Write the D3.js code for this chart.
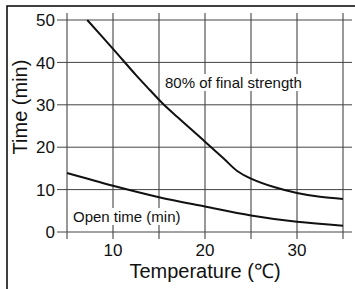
<!DOCTYPE html>
<html>
<head>
<meta charset="utf-8">
<script src="https://cdn.jsdelivr.net/npm/d3@7"></script>
<style>
  body { margin: 0; background: #fff; }
  text { font-family: "Liberation Sans", Arial, Helvetica, sans-serif; fill: #111; }
</style>
</head>
<body>
<div id="chart"></div>
<script>
// Data
const xTicks = [10, 20, 30];
const xGrid = [5, 10, 15, 20, 25, 30, 35];
const yTicks = [0, 10, 20, 30, 40, 50];
const strengthTemp = [7.2, 10, 12.5, 14, 15.4, 17, 20, 22, 23.5, 25, 27.5, 30, 32.5, 35];
const strengthTime = [50, 43.2, 37.0, 33.5, 30.3, 27.1, 21.3, 17.4, 14.4, 12.6, 10.6, 9.2, 8.3, 7.8];
const openTemp = [5, 10, 15, 20, 25, 30, 35];
const openTime = [13.9, 10.9, 8.2, 6.0, 3.9, 2.4, 1.5];

const width = 355, height = 289;

const svg = d3.select("#chart").append("svg")
    .attr("width", width)
    .attr("height", height);

const x = d3.scaleLinear().domain([5, 35]).range([67, 343]);
const y = d3.scaleLinear().domain([0, 50]).range([232, 20]);

// Outer frame (top and left only)
svg.append("path")
    .attr("d", `M7,${height} V6 H${width}`)
    .attr("fill", "none")
    .attr("stroke", "#000")
    .attr("stroke-width", 1.5);

// Grid lines
const grid = svg.append("g");
grid.selectAll("line.v").data(xGrid).join("line")
    .attr("class", "v")
    .attr("x1", d => x(d)).attr("x2", d => x(d))
    .attr("y1", 13).attr("y2", 239)
    .attr("stroke", "#333")
    .attr("stroke-width", 1);
grid.selectAll("line.h").data(yTicks).join("line")
    .attr("class", "h")
    .attr("x1", 57).attr("x2", 352)
    .attr("y1", d => y(d)).attr("y2", d => y(d))
    .attr("stroke", "#444")
    .attr("stroke-width", 1);

// Tick labels
svg.append("g").selectAll("text").data(yTicks).join("text")
    .attr("x", 55)
    .attr("y", d => y(d))
    .attr("dy", "0.36em")
    .attr("text-anchor", "end")
    .style("font-size", "17px")
    .text(d => d);

svg.append("g").selectAll("text").data(xTicks).join("text")
    .attr("x", d => x(d))
    .attr("y", 256)
    .attr("text-anchor", "middle")
    .style("font-size", "17px")
    .text(d => d);

// Axis titles
svg.append("text")
    .attr("x", 205).attr("y", 278)
    .attr("text-anchor", "middle")
    .style("font-size", "20px")
    .text("Temperature (\u2103)");

svg.append("text")
    .attr("transform", "translate(27,107) rotate(-90)")
    .attr("text-anchor", "middle")
    .style("font-size", "20px")
    .text("Time (min)");

// Curve labels with white boxes
function label(tx, ty, str) {
    const g = svg.append("g");
    const t = g.append("text")
        .attr("x", tx).attr("y", ty)
        .style("font-size", "15px")
        .text(str);
    const b = t.node().getBBox();
    g.insert("rect", "text")
        .attr("x", b.x - 2).attr("y", b.y)
        .attr("width", b.width + 4).attr("height", b.height)
        .attr("fill", "#fff");
}
label(165, 88, "80% of final strength");
label(73, 222, "Open time (min)");

// Curves
const line = d3.line()
    .x(d => x(d[0]))
    .y(d => y(d[1]))
    .curve(d3.curveCatmullRom.alpha(0.5));

svg.append("path")
    .datum(d3.zip(strengthTemp, strengthTime))
    .attr("d", line)
    .attr("fill", "none")
    .attr("stroke", "#111")
    .attr("stroke-width", 2);

svg.append("path")
    .datum(d3.zip(openTemp, openTime))
    .attr("d", line)
    .attr("fill", "none")
    .attr("stroke", "#111")
    .attr("stroke-width", 2);
</script>
</body>
</html>
